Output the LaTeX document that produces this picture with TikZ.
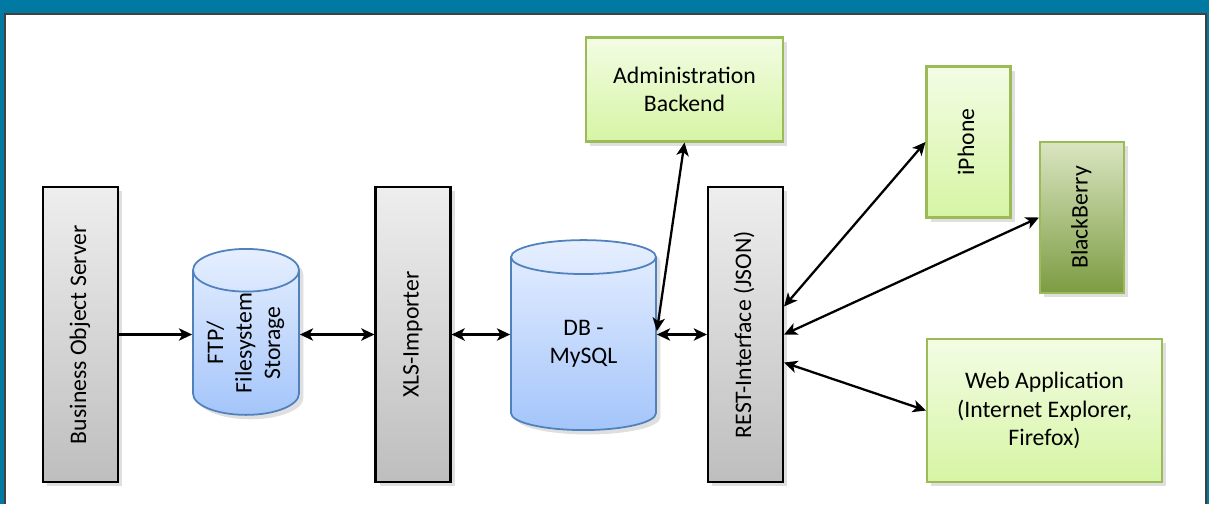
\documentclass[tikz,border=0pt]{standalone}
\usepackage{fontspec}
\setmainfont{Carlito}
\usepackage{tikz}
\usetikzlibrary{positioning,arrows.meta,shapes.geometric,shadows}

\definecolor{frameteal}{RGB}{0,122,163}
\definecolor{greytop}{RGB}{238,238,238}
\definecolor{greybot}{RGB}{190,190,190}
\definecolor{dbline}{RGB}{79,129,189}
\definecolor{dbtop}{RGB}{230,239,255}
\definecolor{dbbot}{RGB}{164,197,250}
\definecolor{appline}{RGB}{155,187,89}
\definecolor{apptop}{RGB}{243,252,228}
\definecolor{appbot}{RGB}{214,245,164}
\definecolor{bbtop}{RGB}{218,229,193}
\definecolor{bbbot}{RGB}{124,156,66}

\newcommand{\vtext}[1]{\rotatebox{90}{\begin{tabular}{@{}c@{}}#1\end{tabular}}}

\tikzset{
  shade/.style={drop shadow={opacity=0.25,shadow xshift=2.5pt,shadow yshift=-2.5pt}},
  server/.style={shade,draw=black,line width=1.2pt,top color=greytop,bottom color=greybot,
    minimum width=1.5cm,minimum height=5.9cm,inner sep=0pt},
  store/.style={shade,cylinder,shape border rotate=90,aspect=0.5,draw=dbline,line width=1pt,
    top color=dbtop,bottom color=dbbot,inner sep=0pt,align=center},
  client/.style={shade,draw=appline,line width=1.2pt,top color=apptop,bottom color=appbot,
    inner sep=0pt,align=center},
  link/.style={{Stealth[length=7.5pt,width=7pt,inset=2pt]}-{Stealth[length=7.5pt,width=7pt,inset=2pt]},line width=1.3pt},
  push/.style={-{Stealth[length=7.5pt,width=7pt,inset=2pt]},line width=1.3pt}
}

\begin{document}
\begin{tikzpicture}
  [x=0.02cm,y=-0.02cm,every node/.style={font=\fontsize{13.5}{16.2}\selectfont}]
  % frame
  \fill[frameteal] (0,0) rectangle (1209,504);
  \fill[white] (5,14) rectangle (1206,504);
  \draw[black!75,line width=0.8pt] (5,504) -- (5,14) -- (1206,14) -- (1206,504);
  \useasboundingbox (0,0) rectangle (1209,504);

  % servers
  \node[server] (bos) at (80.5,334.5) {\vtext{Business Object Server}};
  \node[server] (xls) at (413,334.5) {\vtext{XLS-Importer}};
  \node[server] (rest) at (745.5,334.5) {\vtext{REST-Interface (JSON)}};

  % storage
  \node[store,minimum width=2.12cm,minimum height=3.32cm] (ftp) at (246,343)
    {\vtext{FTP/\\Filesystem\\Storage}};
  \node[store,minimum width=2.9cm,minimum height=3.8cm] (db) at (583.5,344) {DB -\\MySQL};

  % clients
  \node[client,minimum width=3.94cm,minimum height=2.08cm] (admin) at (684.5,89.5)
    {Administration\\Backend};
  \node[client,minimum width=1.68cm,minimum height=3.02cm] (iphone) at (968.5,142) {\vtext{iPhone}};
  \node[client,minimum width=1.68cm,minimum height=3.02cm,top color=bbtop,bottom color=bbbot]
    (bb) at (1082,217.5) {\vtext{BlackBerry}};
  \node[client,minimum width=4.7cm,minimum height=2.86cm] (web) at (1044.5,410.5)
    {Web Application\\(Internet Explorer,\\Firefox)};

  \draw[push] (bos.east) -- (ftp.180 |- bos.east);
  \foreach \from/\to in {ftp.0 |- xls.west/xls.west, xls.east/db.180 |- xls.east,
      db.0 |- rest.west/rest.west, admin.south/db.10,
      rest.36/iphone.west, rest.0/bb.west, rest.-36/web.west}
    \draw[link] (\from) -- (\to);

\end{tikzpicture}
\end{document}
